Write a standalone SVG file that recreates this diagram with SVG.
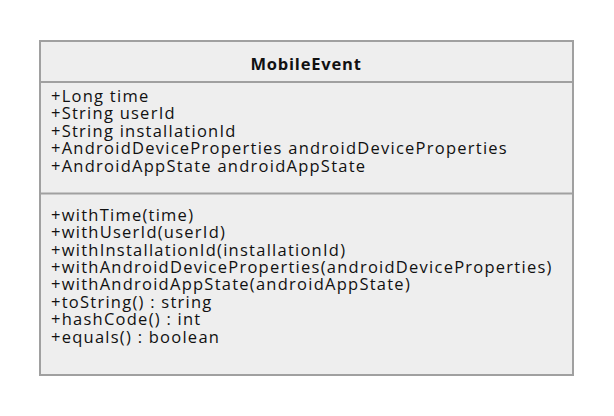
<svg xmlns="http://www.w3.org/2000/svg" width="614" height="416" viewBox="0 0 614 416">
<style>
.box{fill:#eeeeee;stroke:#a0a0a0;stroke-width:2}
.sep{stroke:#a0a0a0;stroke-width:2;fill:none}
.t{font-family:"Open Sans","Liberation Sans",sans-serif;font-size:16.5px;letter-spacing:1.25px;fill:#111111}
.title{font-family:"Open Sans","Liberation Sans",sans-serif;font-size:16.5px;letter-spacing:0.8px;font-weight:bold;fill:#111111}
</style>
<rect width="614" height="416" fill="#ffffff"/>
<g id="MobileEvent">
<rect class="box" x="40" y="41" width="533" height="334"/>
<line class="sep" x1="40" y1="82" x2="573" y2="82"/>
<line class="sep" x1="40" y1="193.5" x2="573" y2="193.5"/>
<text class="title" x="306" y="70" text-anchor="middle">MobileEvent</text>
<text class="t" x="51" y="102">+Long time</text>
<text class="t" x="51" y="119.4">+String userId</text>
<text class="t" x="51" y="136.8">+String installationId</text>
<text class="t" x="51" y="154.2">+AndroidDeviceProperties androidDeviceProperties</text>
<text class="t" x="51" y="171.6">+AndroidAppState androidAppState</text>
<text class="t" x="51" y="220.7">+withTime(time)</text>
<text class="t" x="51" y="238.1">+withUserId(userId)</text>
<text class="t" x="51" y="255.5">+withInstallationId(installationId)</text>
<text class="t" x="51" y="272.9">+withAndroidDeviceProperties(androidDeviceProperties)</text>
<text class="t" x="51" y="290.3">+withAndroidAppState(androidAppState)</text>
<text class="t" x="51" y="307.7">+toString() : string</text>
<text class="t" x="51" y="325.1">+hashCode() : int</text>
<text class="t" x="51" y="342.5">+equals() : boolean</text>
</g>
<g id="connectors"/>
</svg>
